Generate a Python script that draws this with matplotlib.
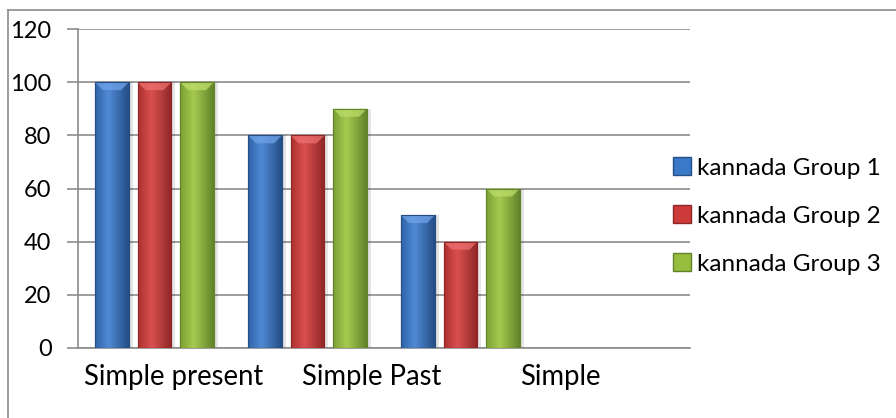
import numpy as np
import matplotlib
matplotlib.use("Agg")
import matplotlib.pyplot as plt
from matplotlib.patches import Polygon, Rectangle, Patch
from matplotlib.colors import to_rgb
from matplotlib.lines import Line2D

# ---- data ----
categories = ["Simple present", "Simple Past", "Simple", ""]
series_names = ["kannada Group 1", "kannada Group 2", "kannada Group 3"]
group1 = [100, 80, 50, None]
group2 = [100, 80, 40, None]
group3 = [100, 90, 60, None]
yticks = [0, 20, 40, 60, 80, 100, 120]

# ---- style ----
base_colors = ["#3A78C8", "#CC3A3A", "#96BD3E"]
dark_colors = ["#254E86", "#8E2626", "#62832A"]
light_colors = ["#6FA3E8", "#EE7070", "#BEDD6A"]
label_offsets = [0.127, 1.42, 2.65]   # Excel-like shifted category labels
font = "Lato"

fig = plt.figure(figsize=(8.96, 4.18), dpi=100)
ax = fig.add_axes([78/896, 1-348/418, (690-78)/896, (348-29)/418])

# outer chart border (left and top visible)
fig.add_artist(Line2D([8/896, 8/896], [0, 1-10/418], color="#8C8C8C", lw=1.2, transform=fig.transFigure))
fig.add_artist(Line2D([8/896, 1], [1-10/418, 1-10/418], color="#8C8C8C", lw=1.2, transform=fig.transFigure))

step = 0.278
width = 0.222
x = np.arange(len(categories))
all_series = [group1, group2, group3]

ax.set_xlim(-0.5, len(categories) - 0.5)
ax.set_ylim(0, 120)

px_x = len(categories) / 612.0
px_y = 120 / 319.0

for i, vals in enumerate(all_series):
    v = np.array([np.nan if a is None else a for a in vals], dtype=float)
    xs = x + (i - 1) * step
    mask = ~np.isnan(v)
    ax.bar(xs[mask] + 4 * px_x, v[mask], width=width, color="#000000", alpha=0.10, zorder=2, linewidth=0)
    bars = ax.bar(xs[mask], v[mask], width=width, color=base_colors[i],
                  edgecolor=dark_colors[i], linewidth=0.8, zorder=3, label=series_names[i])
    c_l = np.array(to_rgb(light_colors[i]))
    c_b = np.array(to_rgb(base_colors[i]))
    c_d = np.array(to_rgb(dark_colors[i]))
    t = np.linspace(0, 1, 64)
    grad = []
    for tt in t:
        if tt < 0.4:
            s = tt / 0.4
            c = c_d * 0.5 * (1 - s) + c_b * (0.5 * (1 - s) + 0.6 * s) + c_l * 0.4 * s
        else:
            s = (tt - 0.4) / 0.6
            c = (c_b * 0.6 + c_l * 0.4) * (1 - s) + c_d * s
        grad.append(c)
    grad = np.array(grad)[None, :, :]
    for b in bars:
        bx, by = b.get_x(), b.get_y()
        bw, bh = b.get_width(), b.get_height()
        im = ax.imshow(grad, extent=[bx, bx + bw, by, by + bh], aspect="auto",
                       zorder=3.5, interpolation="bilinear")
        im.set_clip_path(b)
        bev_h = 8 * px_y
        bev_w = 8 * px_x
        top = by + bh
        poly = Polygon([[bx, top], [bx + bw, top], [bx + bw - bev_w, top - bev_h], [bx + bev_w, top - bev_h]],
                       closed=True, facecolor=light_colors[i], edgecolor="none", alpha=0.75, zorder=4)
        ax.add_patch(poly)
        edge = Rectangle((bx, by), bw, bh, facecolor="none", edgecolor=dark_colors[i], linewidth=0.8, zorder=4.5)
        ax.add_patch(edge)

ax.set_yticks(yticks)
ax.set_yticklabels([str(t) for t in yticks], fontsize=17, fontfamily=font)
ax.yaxis.grid(True, color="#8C8C8C", linewidth=1.2, zorder=0)
ax.set_axisbelow(True)
ax.tick_params(axis="y", length=8, width=1.2, color="#8C8C8C", pad=11)
ax.set_xticks([])
for side in ["top", "right"]:
    ax.spines[side].set_visible(False)
for side in ["left", "bottom"]:
    ax.spines[side].set_color("#8C8C8C")
    ax.spines[side].set_linewidth(1.2)

for lab, xo in zip(categories, label_offsets):
    ax.annotate(lab, xy=(xo, 0), xycoords=("data", "axes fraction"),
                xytext=(0, -26.5), textcoords="offset points",
                ha="center", va="baseline", fontsize=19.8, fontfamily=font, color="black")

leg_handles = [Patch(facecolor=base_colors[i], edgecolor=dark_colors[i]) for i in range(3)]
fig.legend(leg_handles, series_names, loc="center left",
           bbox_to_anchor=(673/896, 1 - 216/418), frameon=False,
           prop={"family": font, "size": 17.5}, handlelength=0.75, handleheight=0.75,
           handletextpad=0.22, labelspacing=1.1, borderaxespad=0, borderpad=0)

fig.savefig("out.png", dpi=100)
